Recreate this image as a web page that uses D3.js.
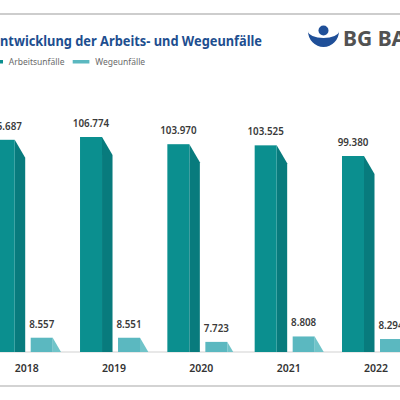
<!DOCTYPE html>
<html lang="de">
<head>
  <meta charset="UTF-8">
  <title>Entwicklung der Arbeits- und Wegeunfälle</title>
  <script src="https://d3js.org/d3.v7.min.js"></script>
  <style>
    body {
      margin: 0;
      background: #fff;
      font-family: "Noto Sans", "Open Sans", sans-serif;
    }
    .title { font-size: 14.5px; font-weight: bold; fill: #1d4e8f; }
    .legend-text { font-size: 8.5px; fill: #6a6a6a; }
    .value-label { font-size: 9.8px; font-weight: 600; fill: #3a3a3a; text-anchor: middle; }
    .year-label { font-size: 10.5px; font-weight: 600; fill: #333; text-anchor: middle; }
    .logo-text { font-size: 21px; font-weight: bold; fill: #525252; }
  </style>
</head>
<body>
  <div id="chart"></div>

  <script>
    // Data
    const years = ["2018", "2019", "2020", "2021", "2022"];
    const arbeitsunfaelle = [105687, 106774, 103970, 103525, 99380];
    const wegeunfaelle = [8557, 8551, 7723, 8808, 8294];
    const seriesNames = ["Arbeitsunfälle", "Wegeunfälle"];

    const width = 400, height = 400;
    const baseY = 352;

    const colors = {
      arbeitFront: "#0b8f8f", arbeitSide: "#087b7d",
      wegFront: "#5bb8c0", wegSide: "#70c4c9"
    };

    const de = d3.formatLocale({ decimal: ",", thousands: ".", grouping: [3], currency: ["", " €"] });
    const fmt = de.format(",d");

    const svg = d3.select("#chart")
      .append("svg")
      .attr("width", width)
      .attr("height", height);

    // Frame lines
    svg.append("line")
      .attr("x1", 0).attr("x2", width).attr("y1", 14).attr("y2", 14)
      .attr("stroke", "#9b9b9b").attr("stroke-width", 1.2);
    svg.append("line")
      .attr("x1", 0).attr("x2", width).attr("y1", 386).attr("y2", 386)
      .attr("stroke", "#a8a8a8").attr("stroke-width", 1.2);

    // Title (chart is cropped on the left: "ntwicklung ..." spans 0..262)
    const title = svg.append("text")
      .attr("class", "title")
      .attr("x", 0)
      .attr("y", 46)
      .text("Entwicklung der Arbeits- und Wegeunfälle");
    const tNode = title.node();
    const nChars = tNode.getNumberOfChars();
    const firstW = tNode.getSubStringLength(0, 1);
    const restW = tNode.getSubStringLength(1, nChars - 1);
    const f = 262 / restW;
    title.attr("textLength", (firstW + restW) * f)
      .attr("lengthAdjust", "spacingAndGlyphs")
      .attr("x", -firstW * f);

    // Logo
    const logo = svg.append("g");
    logo.append("circle")
      .attr("cx", 323.5).attr("cy", 30.5).attr("r", 5)
      .attr("fill", "#1f4f98");
    logo.append("path")
      .attr("d", "M308,31 A15.5,16 0 0 0 339,31 A15.5,7 0 0 1 308,31 Z")
      .attr("fill", "#1f4f98");
    logo.append("text")
      .attr("class", "logo-text")
      .attr("x", 343)
      .attr("y", 46)
      .text("BG BAU");

    // Legend
    const legendX = [-13.7, 72.7];
    const legendCol = [colors.arbeitFront, colors.wegFront];
    const legend = svg.selectAll(".legend")
      .data(seriesNames)
      .enter()
      .append("g")
      .attr("transform", (d, i) => `translate(${legendX[i]},0)`);
    legend.append("rect")
      .attr("x", 0).attr("y", 60)
      .attr("width", 16.7).attr("height", 3.5)
      .attr("fill", (d, i) => legendCol[i]);
    legend.append("text")
      .attr("class", "legend-text")
      .attr("x", 22.5)
      .attr("y", 65)
      .text(d => d);

    // Scales
    const x = d3.scalePoint().domain(years).range([-7.3, 342]);
    const yA = d3.scaleLinear().domain([23100, 106774]).range([baseY, 137]);
    const yW = d3.scaleLinear().domain([5700, 9000]).range([baseY, 335.5]);

    const frontW = 22, sideW = 10.5, slopeH = 18, wegOffset = 38;

    // Baseline
    svg.append("line")
      .attr("x1", 0).attr("x2", width).attr("y1", baseY).attr("y2", baseY)
      .attr("stroke", "#d2d2d2").attr("stroke-width", 1.2);

    function sidePath(x0, top) {
      const h = baseY - top;
      const s = Math.min(h, slopeH);
      const xr = x0 + sideW * s / slopeH;
      return `M${x0},${top} L${xr},${top + s} L${xr},${baseY} L${x0},${baseY} Z`;
    }

    function drawSeries(values, yScale, offset, front, side, cls) {
      const g = svg.selectAll("." + cls)
        .data(values.map((v, i) => ({ year: years[i], value: v })))
        .enter()
        .append("g")
        .attr("class", cls);

      g.append("path")
        .attr("d", d => sidePath(x(d.year) + offset + frontW, yScale(d.value)))
        .attr("fill", side);

      g.append("rect")
        .attr("x", d => x(d.year) + offset)
        .attr("y", d => yScale(d.value))
        .attr("width", frontW)
        .attr("height", d => baseY - yScale(d.value))
        .attr("fill", front);

      g.append("text")
        .attr("class", "value-label")
        .attr("x", d => x(d.year) + offset + frontW / 2)
        .attr("y", d => yScale(d.value) - 10)
        .text(d => fmt(d.value));
    }

    drawSeries(arbeitsunfaelle, yA, 0, colors.arbeitFront, colors.arbeitSide, "arbeit");
    drawSeries(wegeunfaelle, yW, wegOffset, colors.wegFront, colors.wegSide, "weg");

    // Year labels
    svg.selectAll(".year-label")
      .data(years)
      .enter()
      .append("text")
      .attr("class", "year-label")
      .attr("x", d => x(d) + 34)
      .attr("y", 372)
      .text(d => d);
  </script>
</body>
</html>
